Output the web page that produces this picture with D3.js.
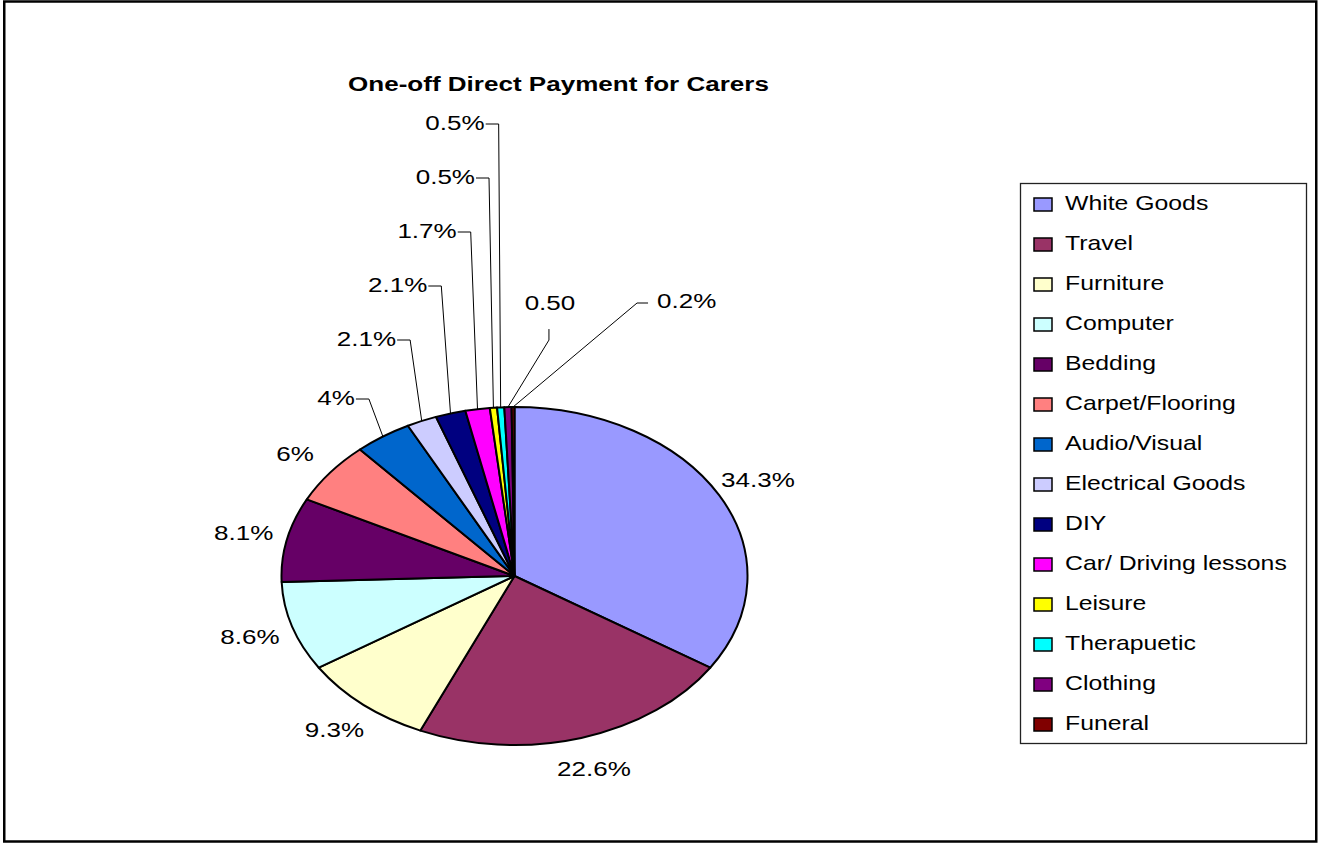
<!DOCTYPE html>
<html>
<head>
<meta charset="utf-8">
<script src="https://cdn.jsdelivr.net/npm/d3@7"></script>
<style>
  html, body { margin: 0; padding: 0; background: #fff; }
  svg { display: block; font-family: "Liberation Sans", Arial, sans-serif; }
</style>
</head>
<body>
<script>
// Spending categories, in the order they run clockwise from 12 o'clock
const categories = [
  "White Goods", "Travel", "Furniture", "Computer", "Bedding",
  "Carpet/Flooring", "Audio/Visual", "Electrical Goods", "DIY",
  "Car/ Driving lessons", "Leisure", "Therapeutic", "Clothing", "Funeral"
];
// Legend spelling as printed
const legendNames = [
  "White Goods", "Travel", "Furniture", "Computer", "Bedding",
  "Carpet/Flooring", "Audio/Visual", "Electrical Goods", "DIY",
  "Car/ Driving lessons", "Leisure", "Therapuetic", "Clothing", "Funeral"
];
// Share of one-off payments (percent)
const values = [34.3, 22.6, 9.3, 8.6, 8.1, 6, 4, 2.1, 2.1, 1.7, 0.5, 0.5, 0.5, 0.2];
// Data labels as printed next to each slice
const valueLabels = [
  "34.3%", "22.6%", "9.3%", "8.6%", "8.1%", "6%", "4%",
  "2.1%", "2.1%", "1.7%", "0.5%", "0.5%", "0.50", "0.2%"
];
const chartTitle = "One-off Direct Payment for Carers";

// Slice fills (classic spreadsheet palette)
const palette = [
  "#9999FF", "#993366", "#FFFFCC", "#CCFFFF", "#660066", "#FF8080", "#0066CC",
  "#CCCCFF", "#000080", "#FF00FF", "#FFFF00", "#00FFFF", "#800080", "#800000"
];

// ---- layout ----
const W = 1318, H = 843;
const cx = 514.5, cy = 576, rx = 233, ry = 169;   // elliptical pie
const TX = 1.24;                                   // horizontal text stretch
const labelFont = 21, legendFont = 20, titleFont = 21;

const svg = d3.select("body").append("svg")
  .attr("width", W).attr("height", H);

// outer frame
svg.append("rect")
  .attr("x", 4.25).attr("y", 1.5)
  .attr("width", 1312).attr("height", 840)
  .attr("fill", "#fff").attr("stroke", "#000").attr("stroke-width", 2.5);

// helper: horizontally stretched text, y = visual centre of cap height
function label(g, x, yc, str, size, anchor, weight) {
  return g.append("text")
    .attr("transform", `translate(${x},${yc + size * 0.36}) scale(${TX},1)`)
    .attr("text-anchor", anchor || "middle")
    .attr("font-size", size)
    .attr("font-weight", weight || "normal")
    .attr("fill", "#000")
    .text(str);
}
// width of a label after stretching
const measureCtx = document.createElement("canvas").getContext("2d");
function textWidth(str, size) {
  measureCtx.font = `${size}px "Liberation Sans", Arial, sans-serif`;
  return measureCtx.measureText(str).width * TX;
}

// title
label(svg, 558.5, 83.5, chartTitle, titleFont, "middle", "bold");

// ---- pie ----
const pieData = d3.pie().sort(null).value(d => d)(values);
const arc = d3.arc().innerRadius(0).outerRadius(ry);

const pieG = svg.append("g")
  .attr("transform", `translate(${cx},${cy}) scale(${rx / ry},1)`);

pieG.selectAll("path")
  .data(pieData)
  .join("path")
  .attr("d", arc)
  .attr("fill", (d, i) => palette[i])
  .attr("stroke", "#000")
  .attr("stroke-width", 2)
  .attr("stroke-linejoin", "round")
  .attr("vector-effect", "non-scaling-stroke");

// point on the ellipse at a pie angle, scaled by k
function ellipsePoint(angle, k) {
  return [cx + rx * k * Math.sin(angle), cy - ry * k * Math.cos(angle)];
}
const midAngle = d => (d.startAngle + d.endAngle) / 2;

const labelG = svg.append("g");
const leaderG = svg.append("g")
  .attr("fill", "none").attr("stroke", "#000").attr("stroke-width", 1);

// large slices: label just outside the rim along the mid angle
pieData.slice(0, 6).forEach((d, i) => {
  const [x, y] = ellipsePoint(midAngle(d), 1.19);
  label(labelG, x, y, valueLabels[i], labelFont, "middle");
});

// small slices on the upper left: labels stacked upwards with elbow leaders
const stackBaseY = 397.5, stackStep = 54;
pieData.slice(6, 12).forEach((d, j) => {
  const i = j + 6;
  const [ax, ay] = ellipsePoint(midAngle(d), 1);
  const yc = stackBaseY - j * stackStep - (j > 0 ? 5 : 0);
  const elbowX = ax - (14 - 2.4 * j);
  const lineY = yc + 1.5;
  const textEnd = elbowX - 14;
  leaderG.append("path")
    .attr("d", d3.line()([[textEnd + 1, lineY], [elbowX, lineY], [ax, ay]]));
  label(labelG, textEnd, yc, valueLabels[i], labelFont, "end");
});

// Clothing: label above, short vertical lead then slanted to the slice
{
  const d = pieData[12];
  const [ax, ay] = ellipsePoint(midAngle(d), 1);
  const lx = ax + 41;
  leaderG.append("path")
    .attr("d", d3.line()([[lx, ay - 78], [lx, ay - 67], [ax, ay]]));
  label(labelG, lx + 1, ay - 104.5, valueLabels[12], labelFont, "middle");
}
// Funeral: label to the upper right
{
  const d = pieData[13];
  const [ax, ay] = ellipsePoint(midAngle(d), 1);
  const ly = ay - 104;
  leaderG.append("path")
    .attr("d", d3.line()([[ax + 135, ly], [ax + 124, ly], [ax, ay]]));
  label(labelG, ax + 144, ly - 2.5, valueLabels[13], labelFont, "start");
}

// ---- legend ----
const legendX = 1020, legendY = 183, legendW = 286, legendH = 560;
const rowY0 = 204.5, rowStep = 40;
const legendG = svg.append("g");
legendG.append("rect")
  .attr("x", legendX + 0.5).attr("y", legendY + 0.5)
  .attr("width", legendW).attr("height", legendH)
  .attr("fill", "#fff").attr("stroke", "#222").attr("stroke-width", 1.3);

const rowScale = d3.scaleLinear()
  .domain([0, legendNames.length - 1])
  .range([rowY0, rowY0 + rowStep * (legendNames.length - 1)]);

legendNames.forEach((name, i) => {
  const y = rowScale(i);
  legendG.append("rect")
    .attr("x", 1034).attr("y", y - 6.5)
    .attr("width", 18).attr("height", 13)
    .attr("fill", palette[i])
    .attr("stroke", "#000").attr("stroke-width", 1.5);
  label(legendG, 1065, y - 1.5, name, legendFont, "start");
});
</script>
</body>
</html>
